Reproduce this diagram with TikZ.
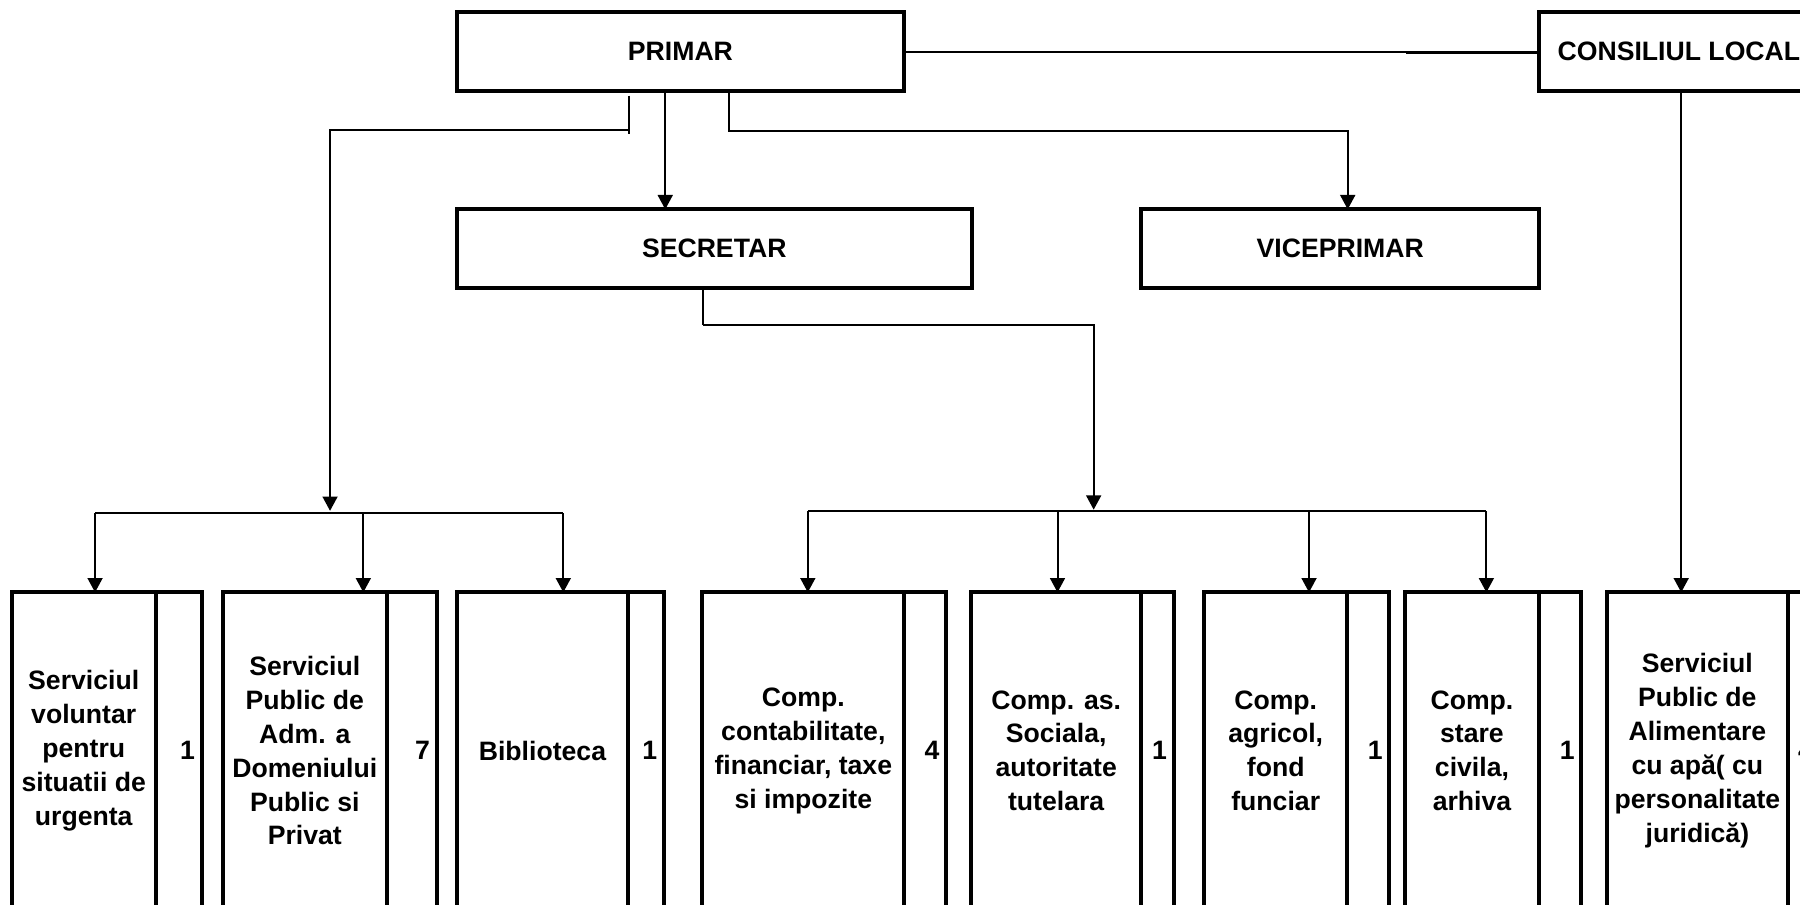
\documentclass[tikz,border=0pt]{standalone}
\usepackage{fontspec}
\setmainfont{Liberation Sans}
\usetikzlibrary{arrows.meta}
\tikzset{
	head/.style={draw, line width=2pt, minimum height=1.37cm, inner sep=0pt, outer sep=0pt},
	cell/.style={draw, line width=2pt, anchor=north west, minimum height=5.52cm, inner sep=0pt, outer sep=0pt, align=center},
	num/.style={anchor=east, inner xsep=0.11cm, inner ysep=0pt},
	link/.style={line width=1pt},
}
\begin{document}
\begin{tikzpicture}[x=0.02cm, y=-0.02cm, font=\bfseries\fontsize{13.2}{16.8}\selectfont, >={Triangle[length=0.25cm,width=0.26cm]}]
	\def\top{516}  % linia de sus a compartimentelor
	\useasboundingbox (0,0) rectangle (1568,788);
	\clip (0,0) rectangle (1568,788);
	% conducere
	\node[head, minimum width=7.8cm] (primar) at (592.75,45) {PRIMAR};
	\node[head, minimum width=4.86cm] (consiliu) at (1462.5,45) {CONSILIUL LOCAL};
	\node[head, minimum width=8.98cm] (secretar) at (622.2,216.6) {SECRETAR};
	\node[head, minimum width=6.94cm] (vice) at (1167.5,216.6) {VICEPRIMAR};
	% compartimente
	\node[cell, minimum width=2.51cm] (s1) at (10.2,\top) {Serviciul\\voluntar\\pentru\\situatii de\\urgenta};
	\node[cell, minimum width=0.80cm] (n1) at (s1.north east) {};
	\node[num] (k1) at (n1.east) {1};
	\node[cell, minimum width=2.86cm] (s2) at (194,\top) {Serviciul\\Public de\\Adm. a\\Domeniului\\Public si\\Privat};
	\node[cell, minimum width=0.87cm] (n2) at (s2.north east) {};
	\node[num] (k2) at (n2.east) {7};
	\node[cell, minimum width=2.99cm] (s3) at (397.8,\top) {Biblioteca};
	\node[cell, minimum width=0.62cm] (n3) at (s3.north east) {};
	\node[num] (k3) at (n3.east) {1};
	\node[cell, minimum width=3.52cm] (s4) at (611.8,\top) {Comp.\\contabilitate,\\financiar, taxe\\si impozite};
	\node[cell, minimum width=0.73cm] (n4) at (s4.north east) {};
	\node[num] (k4) at (n4.east) {4};
	\node[cell, minimum width=2.97cm] (s5) at (845.8,\top) {Comp. as.\\Sociala,\\autoritate\\tutelara};
	\node[cell, minimum width=0.56cm] (n5) at (s5.north east) {};
	\node[num] (k5) at (n5.east) {1};
	\node[cell, minimum width=2.50cm] (s6) at (1048.8,\top) {Comp.\\agricol,\\fond\\funciar};
	\node[cell, minimum width=0.73cm] (n6) at (s6.north east) {};
	\node[num] (k6) at (n6.east) {1};
	\node[cell, minimum width=2.33cm] (s7) at (1224,\top) {Comp.\\stare\\civila,\\arhiva};
	\node[cell, minimum width=0.74cm] (n7) at (s7.north east) {};
	\node[num] (k7) at (n7.east) {1};
	\node[cell, minimum width=3.16cm] (s8) at (1399.6,\top) {Serviciul\\Public de\\Alimentare\\cu apă( cu\\personalitate\\juridică)};
	\node[cell, minimum width=0.55cm] (n8) at (s8.north east) {};
	\node[num] (k8) at (n8.east) {4};
	% legaturi de sus
	\draw[link] (primar.east) -- (consiliu.west);
	\draw[link] ([yshift=-0.025cm]consiliu.west) -- ++(-116,0);
	\coordinate (pS) at (579.5,0);
	\coordinate (pL) at (547.5,113);
	\coordinate (pR) at (635,114);
	\coordinate (cJ) at (1464.5,0);
	\draw[link,->] (primar.south -| pS) -- (secretar.north -| pS);
	\draw[link] ([yshift=-0.08cm]primar.south -| pL) -- ([yshift=-0.08cm]pL);
	\draw[link,->] (primar.south -| pR) -- (pR) -| (vice.north -| 1174,0);
	\draw[link,->] (consiliu.south -| cJ) -- (s8.north -| cJ);
	% grupa din stanga
	\coordinate (d1) at (82.8,447);
	\coordinate (d2) at (316.5,447);
	\coordinate (d3) at (490.7,447);
	\draw[link,->] (pL) -| (287.5,445);
	\draw[link] (d1) -- (d3);
	\draw[link,->] (d1) -- (d1 |- s1.north);
	\draw[link,->] (d2) -- (d2 |- s2.north);
	\draw[link,->] (d3) -- (d3 |- s3.north);
	% grupa secretarului
	\coordinate (sJ) at (612.5,283);
	\coordinate (e1) at (703.7,445.5);
	\coordinate (e2) at (921.2,445.5);
	\coordinate (e3) at (1140.3,445.5);
	\coordinate (e4) at (1294.8,445.5);
	\draw[link] (secretar.south -| sJ) -- (sJ);
	\draw[link,->] (sJ) -| (952.7,444);
	\draw[link] (e1) -- (e4);
	\draw[link,->] (e1) -- (e1 |- s4.north);
	\draw[link,->] (e2) -- (e2 |- s5.north);
	\draw[link,->] (e3) -- (e3 |- s6.north);
	\draw[link,->] (e4) -- (e4 |- s7.north);
\end{tikzpicture}
\end{document}
